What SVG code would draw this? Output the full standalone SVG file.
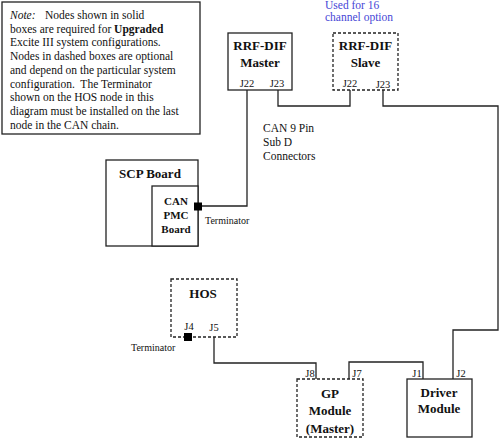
<svg xmlns="http://www.w3.org/2000/svg" width="504" height="440" viewBox="0 0 504 440">
<style>
text{font-family:"Liberation Serif","Times New Roman",serif;fill:#111}
.box{fill:#fff;stroke:#222;stroke-width:1.3}
.dash{fill:#fff;stroke:#222;stroke-width:1.3;stroke-dasharray:3 2}
.t{font-size:13px;font-weight:bold;text-anchor:middle}
.s{font-size:11px;font-weight:bold;text-anchor:middle}
.j{font-size:10.5px;text-anchor:middle}
.n{font-size:11.5px}
.lbl{font-size:10px}
.c{fill:none;stroke:#222;stroke-width:1.3}
.term{fill:#000}
</style>
<rect width="504" height="440" fill="#fff"/>
<g id="note">
<rect class="box" x="2" y="2" width="198" height="132"/>
<text class="n" x="10" y="19"><tspan font-style="italic">Note:</tspan><tspan x="45">Nodes shown in solid</tspan></text>
<text class="n" x="10" y="32.5">boxes are required for <tspan font-weight="bold">Upgraded</tspan></text>
<text class="n" x="10" y="46">Excite III system configurations.</text>
<text class="n" x="10" y="60">Nodes in dashed boxes are optional</text>
<text class="n" x="10" y="74">and depend on the particular system</text>
<text class="n" x="10" y="87.5" xml:space="preserve">configuration.  The Terminator</text>
<text class="n" x="10" y="101">shown on the HOS node in this</text>
<text class="n" x="10" y="115">diagram must be installed on the last</text>
<text class="n" x="10" y="129">node in the CAN chain.</text>
</g>
<g id="connectors">
<polyline class="c" points="247,90 247,206 201,206"/>
<polyline class="c" points="278,90 278,106 350,106 350,90"/>
<polyline class="c" points="383,90 383,106 498,106 498,330 453,330 453,379"/>
<polyline class="c" points="214,337 214,363 316,363 316,379"/>
<polyline class="c" points="349,379 349,362 423,362 423,379"/>
</g>
<g id="rrf-master">
<rect class="box" x="228" y="33" width="64" height="57"/>
<text class="t" x="260" y="50">RRF-DIF</text>
<text class="t" x="260" y="66.5">Master</text>
<text class="j" x="247" y="86.5">J22</text>
<text class="j" x="277" y="86.5">J23</text>
</g>
<g id="rrf-slave">
<rect class="dash" x="333" y="33" width="65" height="57"/>
<text class="t" x="365.5" y="50">RRF-DIF</text>
<text class="t" x="365.5" y="66.5">Slave</text>
<text class="j" x="350" y="86.5">J22</text>
<text class="j" x="383" y="87.5">J23</text>
<text class="n" x="325" y="9" style="fill:#4646d6">Used for 16</text>
<text class="n" x="325" y="21" style="fill:#4646d6">channel option</text>
</g>
<g id="can-label">
<text class="n" x="263" y="131.5">CAN 9 Pin</text>
<text class="n" x="263" y="145.5">Sub D</text>
<text class="n" x="263" y="159.5">Connectors</text>
</g>
<g id="scp-board">
<rect class="box" x="106" y="160" width="92" height="86"/>
<text class="t" x="150" y="177.5">SCP Board</text>
</g>
<g id="can-pmc">
<rect class="box" x="152" y="186" width="46" height="60"/>
<text class="s" x="176" y="205">CAN</text>
<text class="s" x="176" y="219">PMC</text>
<text class="s" x="176" y="233">Board</text>
<rect class="term" x="194" y="202.5" width="8" height="8"/>
<text class="lbl" x="205" y="223.5">Terminator</text>
</g>
<g id="hos">
<rect class="dash" x="171" y="279" width="66" height="58"/>
<text class="t" x="203" y="298">HOS</text>
<text class="j" x="189" y="329.5">J4</text>
<text class="j" x="214" y="330.5">J5</text>
<rect class="term" x="184" y="333" width="8" height="8"/>
<text class="lbl" x="131" y="350.5">Terminator</text>
</g>
<g id="gp-module">
<rect class="dash" x="297" y="379" width="66" height="58"/>
<text class="t" x="330" y="397.5">GP</text>
<text class="t" x="330" y="415">Module</text>
<text class="t" x="330" y="433">(Master)</text>
<text class="j" x="310" y="377">J8</text>
<text class="j" x="357" y="377">J7</text>
</g>
<g id="driver-module">
<rect class="box" x="407" y="379" width="65" height="58"/>
<text class="t" x="439" y="396.5">Driver</text>
<text class="t" x="439" y="412.5">Module</text>
<text class="j" x="417" y="377">J1</text>
<text class="j" x="461" y="377">J2</text>
</g>
</svg>
